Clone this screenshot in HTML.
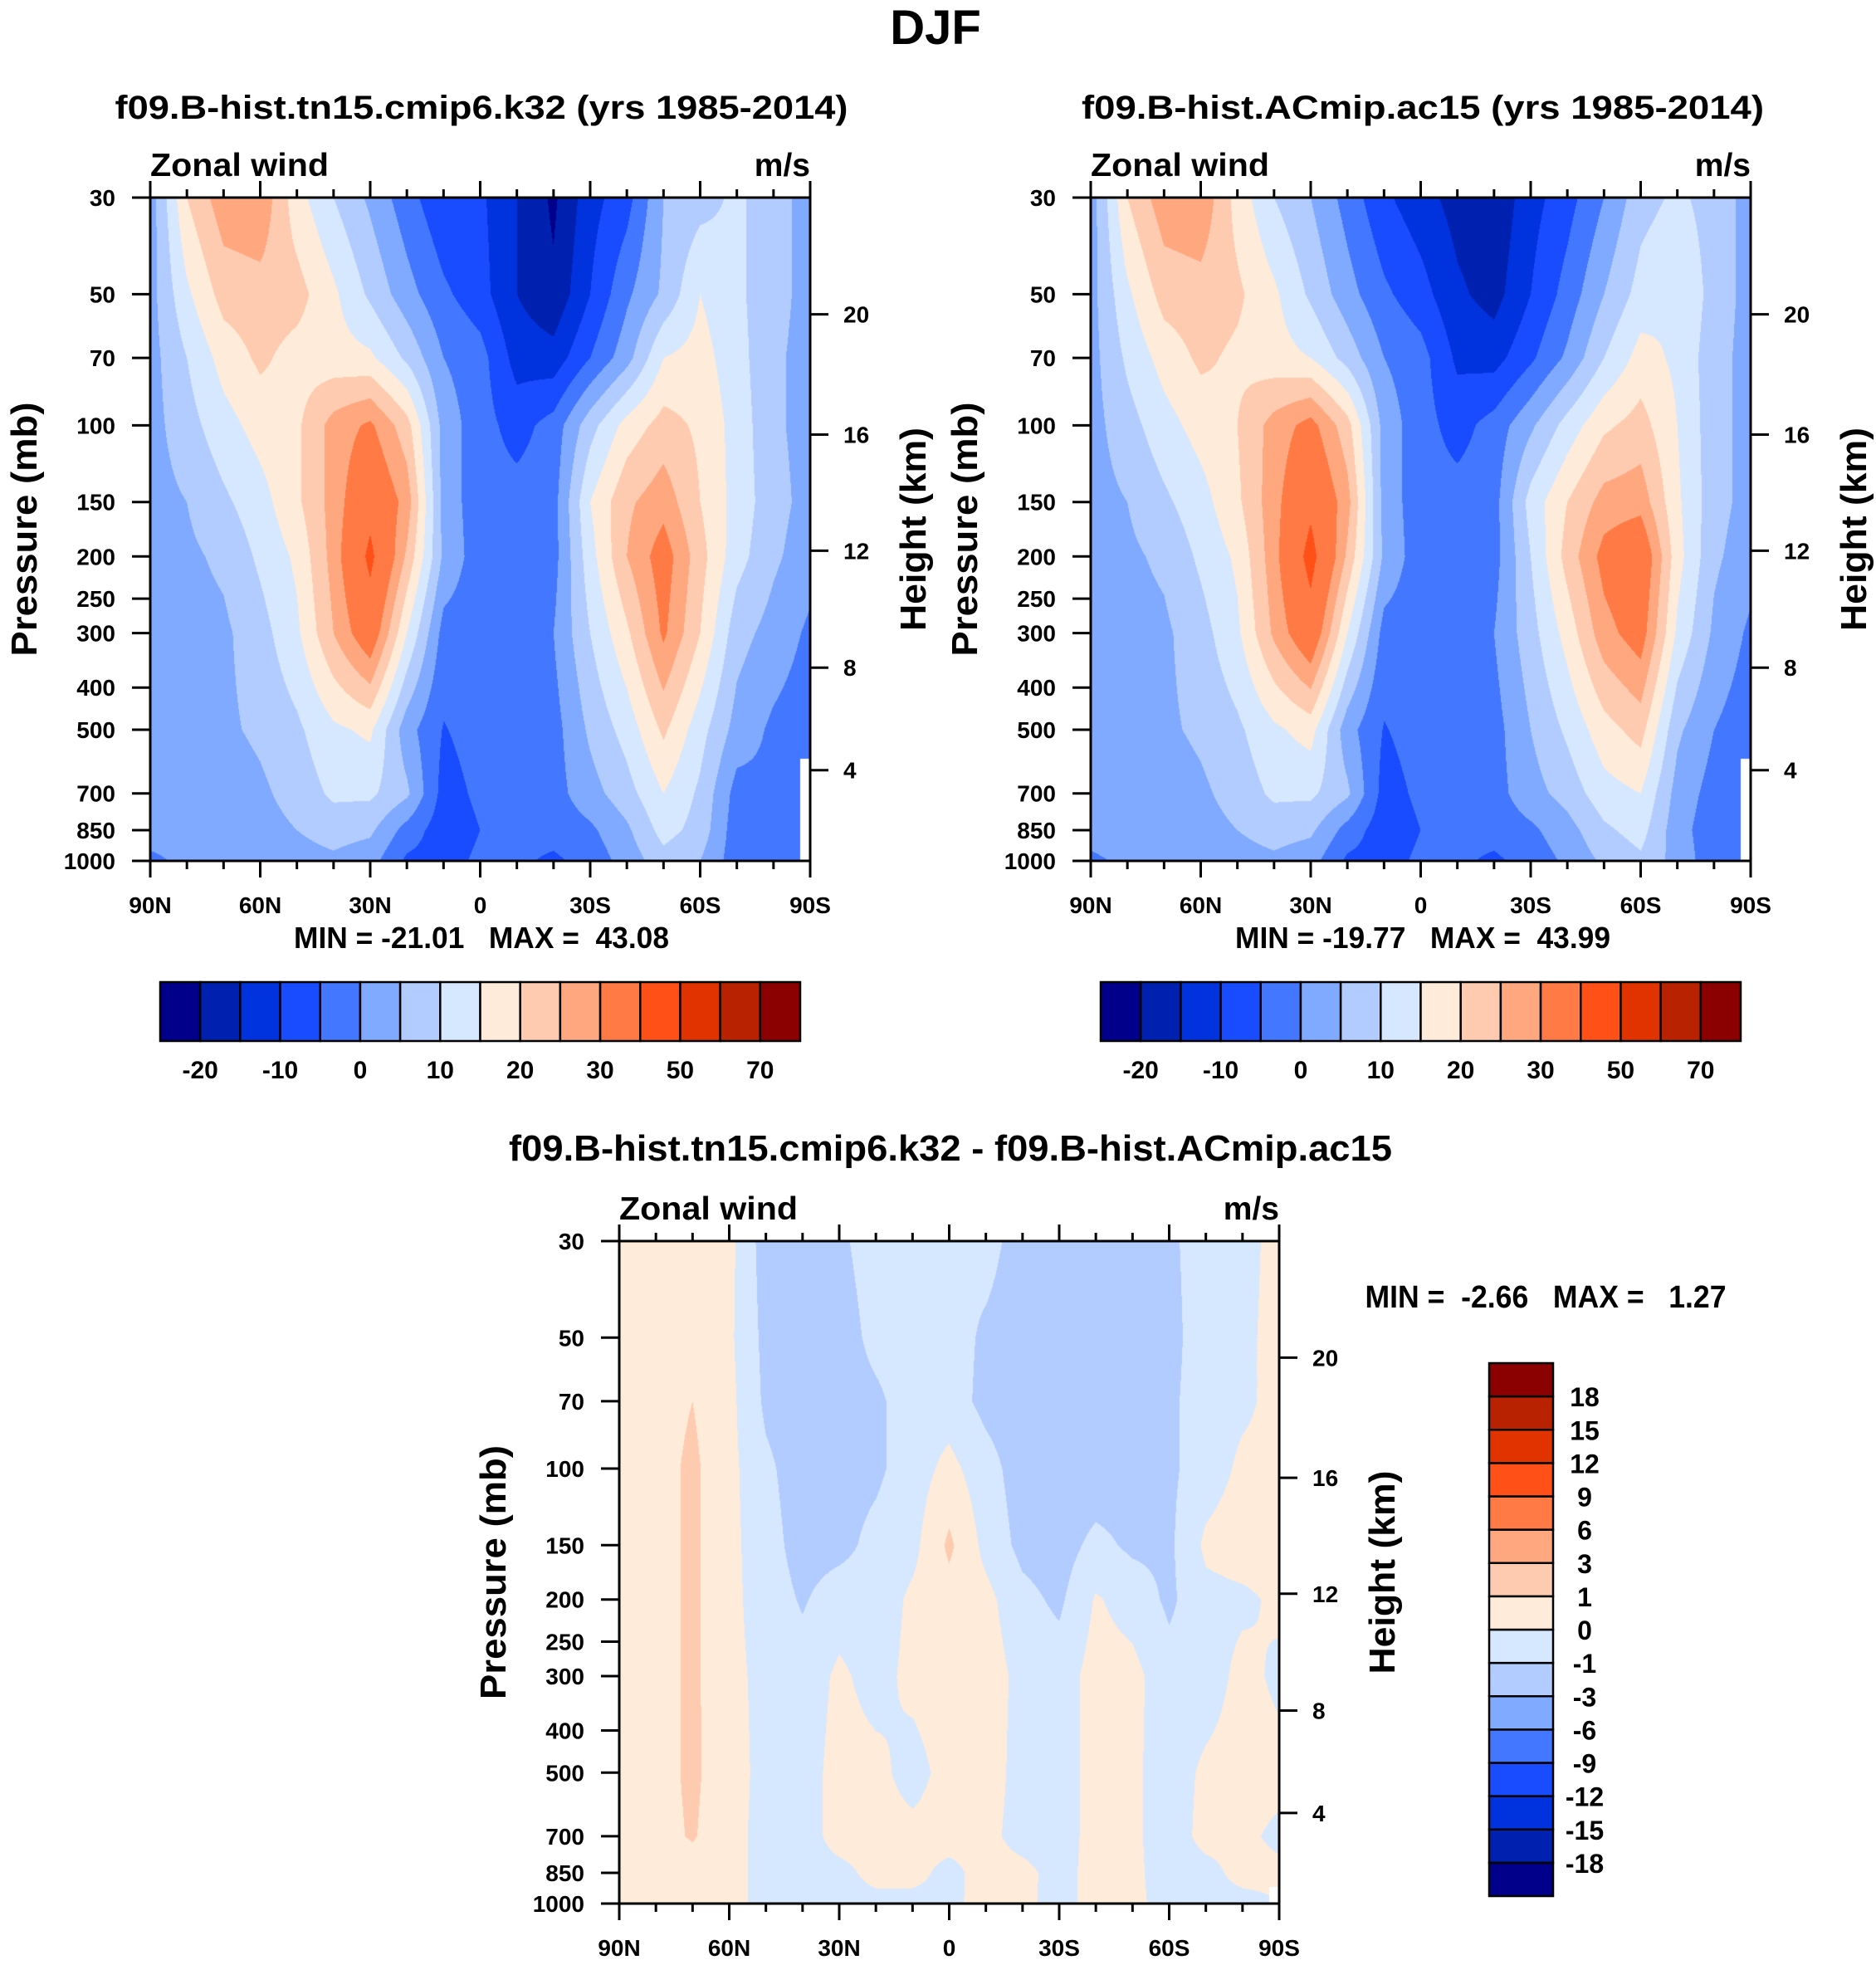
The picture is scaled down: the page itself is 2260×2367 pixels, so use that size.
<!DOCTYPE html>
<html><head><meta charset="utf-8"><title>DJF Zonal wind</title>
<style>
html,body{margin:0;padding:0;background:#fff;}
#root{position:relative;width:2260px;height:2367px;overflow:hidden;background:#fff;}
canvas{position:absolute;}
svg{position:absolute;left:0;top:0;}
text{font-family:"Liberation Sans",Arial,sans-serif;font-weight:bold;fill:#000;white-space:pre;}
</style></head>
<body>
<div id="root">
<canvas id="c1" style="left:181px;top:238px" width="795" height="799"></canvas>
<canvas id="c2" style="left:1314px;top:238px" width="795" height="799"></canvas>
<canvas id="c3" style="left:746px;top:1495px" width="795" height="798"></canvas>
<svg id="s" width="2260" height="2367">
<text x="1127" y="53" font-size="58" text-anchor="middle">DJF</text>
<text x="580" y="143" font-size="40" text-anchor="middle" textLength="883" lengthAdjust="spacingAndGlyphs">f09.B-hist.tn15.cmip6.k32 (yrs 1985-2014)</text>
<text x="1714" y="143" font-size="40" text-anchor="middle" textLength="822" lengthAdjust="spacingAndGlyphs">f09.B-hist.ACmip.ac15 (yrs 1985-2014)</text>
<text x="1145" y="1398" font-size="44" text-anchor="middle" textLength="1064" lengthAdjust="spacingAndGlyphs">f09.B-hist.tn15.cmip6.k32 - f09.B-hist.ACmip.ac15</text>
<text x="580" y="1142" font-size="36" text-anchor="middle" textLength="452" lengthAdjust="spacingAndGlyphs" xml:space="preserve">MIN = -21.01   MAX =  43.08</text>
<text x="1714" y="1142" font-size="36" text-anchor="middle" textLength="452" lengthAdjust="spacingAndGlyphs" xml:space="preserve">MIN = -19.77   MAX =  43.99</text>
<text x="1862" y="1575" font-size="38" text-anchor="middle" textLength="435" lengthAdjust="spacingAndGlyphs" xml:space="preserve">MIN =  -2.66   MAX =   1.27</text>
</svg>
</div>
<script>
// ---- data ----
const LATS = [90,80,70,60,50,40,30,20,10,0,-10,-20,-30,-40,-50,-60,-70,-80,-90];
const LEVS = [30,50,70,100,150,200,300,500,700,850,1000];
const U_K32 = [
 [2,20,28,29,17,10,4,-3,-9,-9,-15,-21,-12,-7,5,8,11,7,3],
 [3,14,22,23,22,16,9,2,-4,-8,-15,-19,-10,-1,6,15,11,7,3],
 [3,10,17,21,18,17,16,9,0,-3,-12,-13,-5,3,15,17,12,6,3],
 [3,8,13,17,19,27,31,22,3,-3,-7,-3,8,17,22,19,13,6,3],
 [3,5,9,13,19,27,37,28,3,-3,-3,-2,15,24,28,20,13,7,3],
 [3,4,6,11,16,27,42,24,4,-3,-3,-2,13,25,33,22,12,6,2],
 [2,3,4,8,14,25,35,15,-2,-3,-3,0,10,19,31,20,7,3,-1],
 [2,3,4,6,9,14,16,2,-5.3,-3,-3,-2,6,12,21,12,3,-1,-3],
 [2,2,2,4,7,11,11,6,-7,-4,-2,-2,3,8,15,9,-2,-1,NaN],
 [2,2,2,3,5,7,6,-2,-8,-5,-3,-3,-1,4,12,8,-3,-3,NaN],
 [-1,1,1,2,3,4,2,-6,-7,-4,-4,-6,-3,2,8,5,-3,-3,NaN]
];
const U_AC15 = [
 [2,20,28,29,18,10,5,-2,-9,-13,-17,-19,-12,-7,0,8,11,8,3],
 [3,14,22,23,21,16,9,2,-4,-8,-14,-17,-10,-3,5,12,15,8,3],
 [3,11,17,21,19,17,15,8,0,-3,-11,-12,-6,1,10,17,14,7,3],
 [3,8,13,17,20,27,32,22,3,-3,-7,-3,4,12,19,22,15,7,3],
 [3,5,9,13,19,28,38,27,3,-3,-3,-2,12,20,27,28,16,7,3],
 [3,4,6,11,16,28,43,24,4,-3,-3,-2,10,22,32,36,17,6,2],
 [2,3,4,8,14,26,36,15,-2,-3,-3,0,8,17,28,33,14,4,-1],
 [2,3,4,6,9,14,17,2,-5.3,-3,-3,-2,5,11,18,22,6,0,-3],
 [2,2,2,4,7,11,11,6,-7,-4,-2,-2,3,7,13,15,3,-2,NaN],
 [2,3,2,3,5,7,6,-2,-8,-5,-3,-3,-1,3,9,12,2,-3,NaN],
 [-1,1,1,2,3,4,2,-6,-7,-4,-4,-6,-3,1,6,9,3,-3,NaN]
];
const U_DIFF = [
 [.3,.5,.5,.3,-1.5,-1.5,-1.2,-.5,-.6,-.9,-.6,-1.5,-1.8,-1.8,-1.5,-1.2,-.5,-.3,.3],
 [.4,.5,.5,.2,-1.3,-1.6,-1.5,-.7,-.5,-.5,-1.2,-1.6,-1.8,-1.8,-1.6,-1.3,-.5,-.2,.3],
 [.4,.6,1.0,.3,-1.2,-1.6,-1.5,-1.2,-.5,-.5,-1.3,-1.6,-1.8,-1.8,-1.6,-1.2,-.5,-.2,.3],
 [.4,.6,1.2,.3,-.8,-1.5,-1.4,-1.2,-.5,.3,-.6,-1.5,-1.7,-1.7,-1.5,-1.2,-.5,.2,.3],
 [.4,.6,1.2,.3,-.6,-1.4,-1.3,-.7,-.3,1.2,-.3,-1.3,-1.5,-.7,-1.2,-1.2,.2,.5,.4],
 [.4,.6,1.2,.3,-.5,-1.1,-.5,-.6,.2,.6,.3,-.7,-1.2,.1,-.4,-1.2,-.3,-.2,.2],
 [.4,.6,1.2,.3,-.3,-.6,.2,-.4,.3,.6,.5,-.3,-.5,.4,.3,-.6,-.5,.3,-.2],
 [.4,.6,1.2,.4,-.3,-.5,.4,.3,-.4,.4,.5,-.4,-.5,.4,.2,-.5,.2,.4,.3],
 [.4,.6,1.1,.3,-.3,-.5,.4,.4,.3,.4,.3,-.4,-.5,.4,.2,-.5,.3,.2,-.2],
 [.4,.5,.5,.3,-.3,-.4,-.3,.3,.3,-.3,.4,.3,-.4,.4,.2,-.4,-.3,.3,.2],
 [.3,.4,.4,.2,-.2,-.3,-.3,-.3,-.3,-.2,.3,.2,-.3,.3,.2,-.3,-.3,-.3,NaN]
];
const LEVELS_U = [-20,-15,-10,-5,0,5,10,15,20,25,30,40,50,60,70];
const LABELS_U = ["-20","-10","0","10","20","30","50","70"];
const LEVELS_D = [-18,-15,-12,-9,-6,-3,-1,0,1,3,6,9,12,15,18];
const COLORS = ["#00008B","#0020B0","#0033DD","#1A4CFF","#4477FF","#80AAFF","#B3CCFF","#D6E8FF","#FFEBD9","#FFCBB0","#FFA880","#FF7A45","#FF5018","#E03300","#B82200","#8B0000"];
const P_TICKS = [30,50,70,100,150,200,250,300,400,500,700,850,1000];
const LAT_LABELS = ["90N","60N","30N","0","30S","60S","90S"];
const LAT_LABEL_VALUES = [90,60,30,0,-30,-60,-90];
const HEIGHT_KM = [4,8,12,16,20];
const HEIGHT_P = [619,360,194,105,55.6];

// ---- layout ----
const PANELS = [
 {id:"c1", f:{x:181,y:238,w:795,h:799}, data:U_K32, lev:LEVELS_U, name:"panel1"},
 {id:"c2", f:{x:1314,y:238,w:795,h:799}, data:U_AC15, lev:LEVELS_U, name:"panel2"},
 {id:"c3", f:{x:746,y:1495,w:795,h:798}, data:U_DIFF, lev:LEVELS_D, name:"panel3"}
];
const LN = Math.log(1000/30);
function yP(p,f){return f.y + f.h*Math.log(p/30)/LN;}
function xL(lat,f){return f.x + f.w*(90-lat)/180;}
function hexRGB(h){return [parseInt(h.substr(1,2),16),parseInt(h.substr(3,2),16),parseInt(h.substr(5,2),16)];}
const RGB = COLORS.map(hexRGB);

function drawField(P){
  const cv=document.getElementById(P.id), ctx=cv.getContext("2d");
  const W=cv.width,H=cv.height, img=ctx.createImageData(W,H), d=img.data;
  const lnLev=LEVS.map(p=>Math.log(p));
  for(let py=0;py<H;py++){
    const lp=Math.log(30)+(py+0.5)/H*LN;
    let i=0; while(i<LEVS.length-2 && lp>lnLev[i+1]) i++;
    let t=(lp-lnLev[i])/(lnLev[i+1]-lnLev[i]); t=Math.max(0,Math.min(1,t));
    for(let px=0;px<W;px++){
      const lat=90-(px+0.5)/W*180;
      let j=Math.min(LATS.length-2,Math.floor((90-lat)/10));
      let s=((90-lat)-j*10)/10;
      const c=[[P.data[i][j],(1-t)*(1-s),1-t,1-s],[P.data[i][j+1],(1-t)*s,1-t,s],[P.data[i+1][j],t*(1-s),t,1-s],[P.data[i+1][j+1],t*s,t,s]];
      const k=(py*W+px)*4;
      let white=false;
      for(const q of c){ if(isNaN(q[0]) && q[3]>0.72 && q[2]>0.45) white=true; }
      if(white){d[k]=255;d[k+1]=255;d[k+2]=255;d[k+3]=255;continue;}
      let sw=0,sv=0; for(const q of c){ if(!isNaN(q[0])){sw+=q[1];sv+=q[0]*q[1];} }
      const v=sw>0?sv/sw:0;
      let ci=0; while(ci<P.lev.length && v>=P.lev[ci]) ci++;
      const col=RGB[ci]; d[k]=col[0];d[k+1]=col[1];d[k+2]=col[2];d[k+3]=255;
    }
  }
  ctx.putImageData(img,0,0);
}
const NS="http://www.w3.org/2000/svg", svg=document.getElementById("s");
function mk(tag,attrs,txt){const e=document.createElementNS(NS,tag);for(const a in attrs)e.setAttribute(a,attrs[a]);if(txt!==undefined)e.textContent=txt;svg.appendChild(e);return e;}

PANELS.forEach(P=>{
  drawField(P);
  const f=P.f;
  const fr=mk("rect",{x:f.x,y:f.y,width:f.w,height:f.h,fill:"none",stroke:"#000","stroke-width":3});
  
  
  for(let lat=90;lat>=-90;lat-=10){
    const x=xL(lat,f), len=(lat%30===0)?20:10;
    const t1=mk("line",{x1:x,y1:f.y,x2:x,y2:f.y-len,stroke:"#000","stroke-width":3});
    
    
    const t2=mk("line",{x1:x,y1:f.y+f.h,x2:x,y2:f.y+f.h+len,stroke:"#000","stroke-width":3});
    
    
  }
  LAT_LABELS.forEach((lb,ii)=>{
    const t=mk("text",{x:xL(LAT_LABEL_VALUES[ii],f),y:f.y+f.h+63,"font-size":28,"text-anchor":"middle"},lb);
    
    
  });
  P_TICKS.forEach(p=>{
    const y=yP(p,f);
    const l=mk("line",{x1:f.x,y1:y,x2:f.x-22,y2:y,stroke:"#000","stroke-width":3});
    
    
    const t=mk("text",{x:f.x-42,y:y+10,"font-size":28,"text-anchor":"end"},String(p));
    
    
  });
  HEIGHT_KM.forEach((h,ii)=>{
    const y=yP(HEIGHT_P[ii],f);
    const l=mk("line",{x1:f.x+f.w,y1:y,x2:f.x+f.w+22,y2:y,stroke:"#000","stroke-width":3});
    
    
    const t=mk("text",{x:f.x+f.w+40,y:y+10,"font-size":28},String(h));
    
    
  });
  const zw=mk("text",{x:f.x,y:f.y-26,"font-size":39,textLength:215,lengthAdjust:"spacingAndGlyphs"},"Zonal wind");
  
  
  const ms=mk("text",{x:f.x+f.w,y:f.y-26,"font-size":39,"text-anchor":"end"},"m/s");
  
  
  const cy=f.y+f.h/2;
  const yl=mk("text",{transform:"translate("+(f.x-137)+","+cy+") rotate(-90)","font-size":44,"text-anchor":"middle",textLength:306,lengthAdjust:"spacingAndGlyphs"},"Pressure (mb)");
  
  
  const hl=mk("text",{transform:"translate("+(f.x+f.w+139)+","+cy+") rotate(-90)","font-size":44,"text-anchor":"middle",textLength:245,lengthAdjust:"spacingAndGlyphs"},"Height (km)");
  
  
});

[[193,1183],[1326,1183]].forEach(([x0,y0],pi)=>{
  const bw=771/16,bh=71;
  COLORS.forEach((c,i)=>{
    const r=mk("rect",{x:x0+i*bw,y:y0,width:bw,height:bh,fill:c,stroke:"#000","stroke-width":2.5});
    
    
  });
  LABELS_U.forEach((lb,i)=>{
    const t=mk("text",{x:x0+(2*i+1)*bw,y:y0+116,"font-size":30,"text-anchor":"middle"},lb);
    
    
  });
});
(function(){
  const x0=1794,y0=1642,bw=77,bh=642/16;
  COLORS.forEach((c,i)=>{
    const r=mk("rect",{x:x0,y:y0+(15-i)*bh,width:bw,height:bh,fill:c,stroke:"#000","stroke-width":2.5});
    
    
  });
  LEVELS_D.forEach((v,i)=>{
    const t=mk("text",{x:1909,y:y0+(15-i)*bh+12,"font-size":32,"text-anchor":"middle"},String(v));
    
    
  });
})();
</script>
</body></html>
